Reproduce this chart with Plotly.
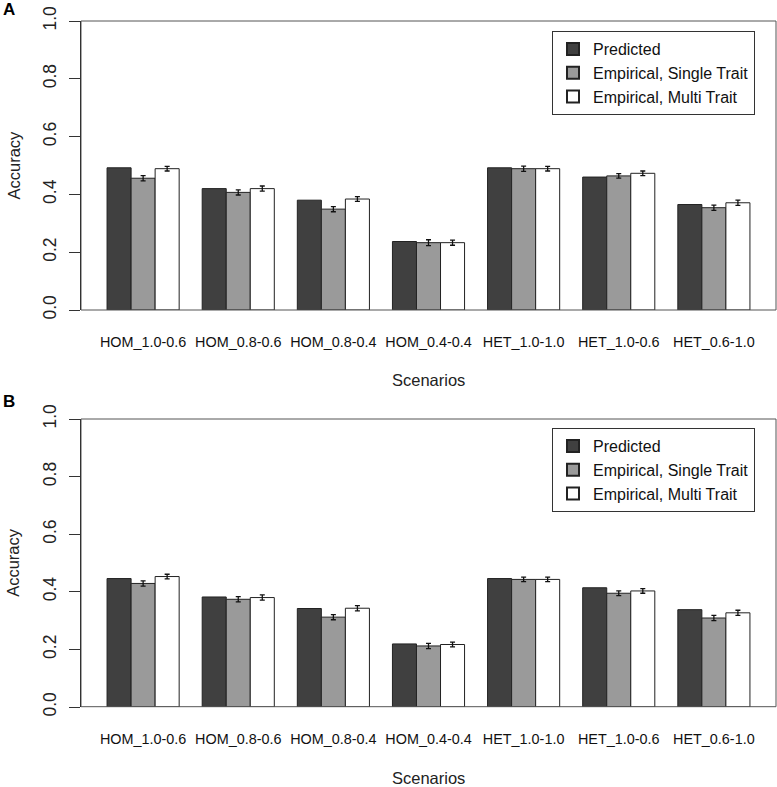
import plotly.graph_objects as go

scenarios = ["HOM_1.0-0.6", "HOM_0.8-0.6", "HOM_0.8-0.4", "HOM_0.4-0.4",
             "HET_1.0-1.0", "HET_1.0-0.6", "HET_0.6-1.0"]
series_names = ["Predicted", "Empirical, Single Trait", "Empirical, Multi Trait"]

# Panel A
a_pred = [0.492, 0.420, 0.380, 0.237, 0.492, 0.460, 0.365]
a_single = [0.456, 0.407, 0.349, 0.233, 0.489, 0.464, 0.354]
a_multi = [0.489, 0.420, 0.384, 0.233, 0.489, 0.473, 0.371]
a_single_err = [0.009, 0.009, 0.009, 0.010, 0.009, 0.008, 0.009]
a_multi_err = [0.008, 0.009, 0.008, 0.009, 0.008, 0.008, 0.009]

# Panel B
b_pred = [0.446, 0.382, 0.342, 0.219, 0.446, 0.414, 0.338]
b_single = [0.429, 0.374, 0.312, 0.212, 0.443, 0.395, 0.309]
b_multi = [0.453, 0.380, 0.343, 0.217, 0.443, 0.403, 0.327]
b_single_err = [0.009, 0.009, 0.009, 0.009, 0.008, 0.008, 0.009]
b_multi_err = [0.008, 0.009, 0.009, 0.008, 0.008, 0.008, 0.009]

fills = ["#404040", "#9a9a9a", "#ffffff"]
FONT = "Liberation Sans, Arial, sans-serif"

fig = go.Figure()

def add_panel(pred, single, multi, s_err, m_err, xa, ya, legend):
    vals = [pred, single, multi]
    errs = [None, s_err, m_err]
    for i in range(3):
        err = None
        if errs[i] is not None:
            err = dict(type="data", array=errs[i], visible=True,
                       color="#111111", thickness=1.3, width=2.5)
        fig.add_trace(go.Bar(
            x=scenarios, y=vals[i], name=series_names[i],
            marker=dict(color=fills[i], line=dict(color="#222222", width=1)),
            error_y=err, xaxis=xa, yaxis=ya, legend=legend,
            showlegend=True,
        ))

add_panel(a_pred, a_single, a_multi, a_single_err, a_multi_err, "x", "y", "legend")
add_panel(b_pred, b_single, b_multi, b_single_err, b_multi_err, "x2", "y2", "legend2")

W, H = 777, 787
ml, mr, mt, mb = 81, 1, 21, 80
pw = W - ml - mr
ph = H - mt - mb

def py(pix):
    return (H - mb - pix) / ph

def px(pix):
    return (pix - ml) / pw

xcommon = dict(type="category", range=[-0.653, 6.653], showline=False,
               ticks="", tickfont=dict(family=FONT, size=14.4, color="#111"),
               ticklabelstandoff=22, showgrid=False, zeroline=False,
               automargin=False)
ycommon = dict(range=[0, 1], tickvals=[0, 0.2, 0.4, 0.6, 0.8, 1.0],
               ticktext=["0.0", "0.2", "0.4", "0.6", "0.8", "1.0"],
               ticks="outside", ticklen=11, tickcolor="#333", tickwidth=1,
               tickangle=-90, tickfont=dict(family=FONT, size=17.5, color="#222"),
               ticklabelstandoff=6,
               showline=True, linecolor="#111", linewidth=1,
               showgrid=False, zeroline=False, automargin=False)

legcommon = dict(font=dict(family=FONT, size=16, color="#111"),
                 bordercolor="#333", borderwidth=1, bgcolor="white",
                 xanchor="left", yanchor="top", tracegroupgap=0,
                 itemsizing="constant")

fig.update_layout(
    width=W, height=H,
    margin=dict(l=ml, r=mr, t=mt, b=mb),
    paper_bgcolor="white", plot_bgcolor="white",
    barmode="group", bargap=0.242, bargroupgap=0,
    xaxis=dict(domain=[0, 1], anchor="y", **xcommon),
    xaxis2=dict(domain=[0, 1], anchor="y2", **xcommon),
    yaxis=dict(domain=[py(310), 1.0], anchor="x", **ycommon),
    yaxis2=dict(domain=[0, py(419)], anchor="x2", **ycommon),
    legend=dict(x=px(552), y=py(31), **legcommon),
    legend2=dict(x=px(552), y=py(428), **legcommon),
    showlegend=True,
)

# box around each plot region
for ytop, ybot in [(21, 310), (419, 706.7)]:
    fig.add_shape(type="rect", xref="paper", yref="paper",
                  x0=0, x1=1, y0=py(ybot), y1=py(ytop),
                  line=dict(color="#555", width=1), fillcolor="rgba(0,0,0,0)",
                  layer="above")

anns = [
    dict(text="<b>A</b>", x=px(9), y=py(10)),
    dict(text="<b>B</b>", x=px(9), y=py(401)),
]
for a in anns:
    fig.add_annotation(xref="paper", yref="paper", x=a["x"], y=a["y"],
                       text=a["text"], showarrow=False,
                       font=dict(family=FONT, size=17, color="#000"),
                       xanchor="center", yanchor="middle")

for ycen in [(21 + 310) / 2, (419 + 706.7) / 2]:
    fig.add_annotation(xref="paper", yref="paper", x=px(13), y=py(ycen),
                       text="Accuracy", textangle=-90, showarrow=False,
                       font=dict(family=FONT, size=16.5, color="#222"),
                       xanchor="center", yanchor="middle")

for ycen in [380, 778]:
    fig.add_annotation(xref="paper", yref="paper", x=0.5, y=py(ycen),
                       text="Scenarios", showarrow=False,
                       font=dict(family=FONT, size=16.5, color="#222"),
                       xanchor="center", yanchor="middle")

fig.write_html("out.html", config={"displayModeBar": False},
               post_script="document.body.style.margin='0';document.body.style.padding='0';")
